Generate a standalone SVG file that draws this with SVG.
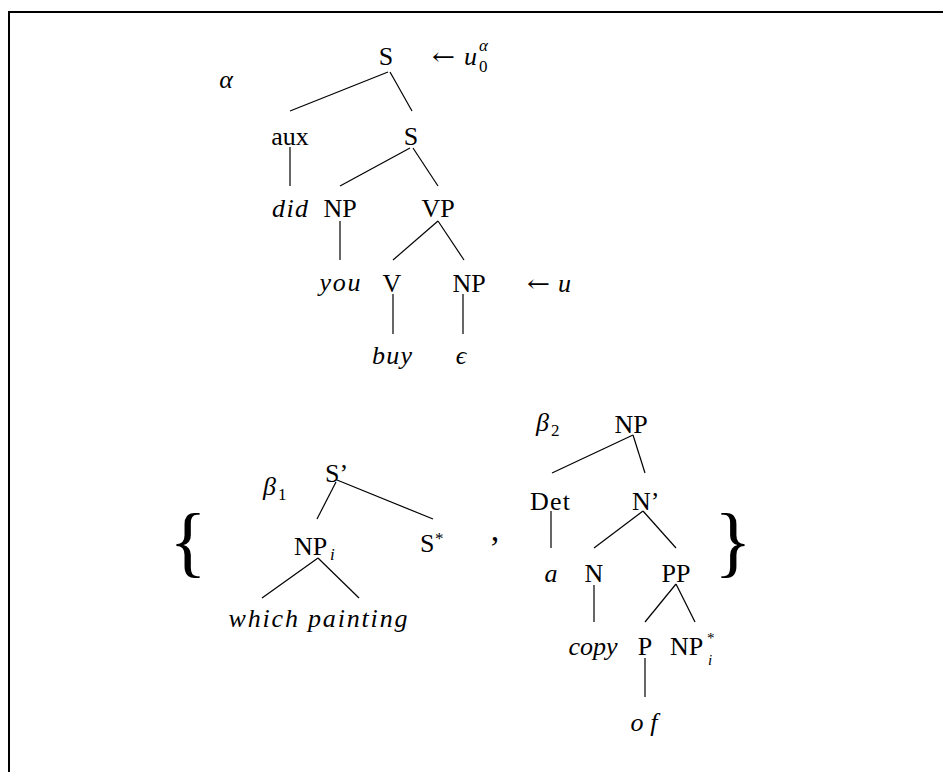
<svg xmlns="http://www.w3.org/2000/svg" width="943" height="772" viewBox="0 0 943 772">
<style>
text{font-family:"Liberation Serif","Times New Roman",serif;font-size:26px;fill:#000}
.m{text-anchor:middle}
.i{font-style:italic}
.s{font-size:17px}
.b{font-size:78px}
.ar{font-family:"DejaVu Serif",serif;font-size:24px}
#edges line{stroke:#000;stroke-width:1.2}
</style>
<rect width="943" height="772" fill="#fff"/>
<path d="M9,773 V12 H944" fill="none" stroke="#000" stroke-width="2"/>
<g id="edges">
<line x1="388" y1="72" x2="290" y2="111"/>
<line x1="390" y1="72" x2="412" y2="111"/>
<line x1="290" y1="147" x2="290" y2="186"/>
<line x1="410" y1="148" x2="340" y2="186"/>
<line x1="413" y1="148" x2="438" y2="186"/>
<line x1="340" y1="221" x2="340" y2="260"/>
<line x1="438" y1="221" x2="393" y2="260"/>
<line x1="438" y1="221" x2="464" y2="260"/>
<line x1="393" y1="294" x2="393" y2="334"/>
<line x1="463" y1="294" x2="463" y2="334"/>
<line x1="336" y1="482" x2="317" y2="519"/>
<line x1="337" y1="480" x2="433" y2="519"/>
<line x1="318" y1="558" x2="262" y2="598"/>
<line x1="318" y1="558" x2="359" y2="598"/>
<line x1="633" y1="435" x2="552" y2="473"/>
<line x1="633" y1="435" x2="645" y2="473"/>
<line x1="551" y1="511" x2="551" y2="548"/>
<line x1="643" y1="511" x2="594" y2="548"/>
<line x1="643" y1="511" x2="676" y2="548"/>
<line x1="594" y1="585" x2="594" y2="622"/>
<line x1="676" y1="584" x2="645" y2="622"/>
<line x1="676" y1="584" x2="695" y2="622"/>
<line x1="645" y1="658" x2="645" y2="697"/>
</g>
<g id="alpha-label"><text class="m i" x="226" y="88">α</text></g>
<g id="a-S"><text class="m" x="386" y="65">S</text></g>
<g id="a-u0"><text class="ar" x="432" y="65" textLength="23" lengthAdjust="spacingAndGlyphs">←</text><text class="i" x="464" y="65">u</text><text class="s i" x="479" y="51">α</text><text class="s" x="479" y="72">0</text></g>
<g id="a-aux"><text class="m" x="290" y="145">aux</text></g>
<g id="a-S2"><text class="m" x="411" y="145">S</text></g>
<g id="a-did"><text class="m i" x="290" y="217" textLength="36" lengthAdjust="spacing">did</text></g>
<g id="a-NP"><text class="m" x="340" y="217">NP</text></g>
<g id="a-VP"><text class="m" x="438" y="217">VP</text></g>
<g id="a-you"><text class="m i" x="340" y="291" textLength="41" lengthAdjust="spacing">you</text></g>
<g id="a-V"><text class="m" x="392" y="292">V</text></g>
<g id="a-NP2"><text class="m" x="469" y="292">NP</text></g>
<g id="a-u"><text class="ar" x="527" y="292" textLength="23" lengthAdjust="spacingAndGlyphs">←</text><text class="i" x="558" y="292">u</text></g>
<g id="a-buy"><text class="m i" x="392" y="364" textLength="40" lengthAdjust="spacing">buy</text></g>
<g id="a-eps"><text class="m i" x="461" y="364">ϵ</text></g>
<g id="beta1-label"><text class="i" x="263" y="495">β</text><text class="s" x="278" y="500">1</text></g>
<g id="b1-Sbar"><text x="325" y="482">S’</text></g>
<g id="b1-NPi"><text x="294" y="555">NP</text><text class="s i" x="330" y="560">i</text></g>
<g id="b1-Sstar"><text x="420" y="552">S</text><text class="s" x="435" y="544">*</text></g>
<g id="b1-words"><text class="m i" x="318" y="627" textLength="179" lengthAdjust="spacing">which painting</text></g>
<g id="lbrace"><text class="m b" x="188" y="568">{</text></g>
<g id="comma"><text class="m" x="495" y="541" style="font-size:34px">,</text></g>
<g id="beta2-label"><text class="i" x="536" y="431">β</text><text class="s" x="551" y="436">2</text></g>
<g id="b2-NP"><text class="m" x="631" y="433">NP</text></g>
<g id="b2-Det"><text class="m" x="550" y="510" textLength="40" lengthAdjust="spacing">Det</text></g>
<g id="b2-Nbar"><text x="632" y="510">N’</text></g>
<g id="b2-a"><text class="m i" x="551" y="582">a</text></g>
<g id="b2-N"><text class="m" x="594" y="582">N</text></g>
<g id="b2-PP"><text class="m" x="676" y="582">PP</text></g>
<g id="b2-copy"><text class="m i" x="593" y="655" textLength="49" lengthAdjust="spacing">copy</text></g>
<g id="b2-P"><text class="m" x="645" y="655">P</text></g>
<g id="b2-NPi"><text x="670" y="655">NP</text><text x="707" y="643" style="font-size:15px">*</text><text class="i" x="708" y="665" style="font-size:15px">i</text></g>
<g id="b2-of"><text class="m i" x="644" y="731" textLength="27" lengthAdjust="spacing">of</text></g>
<g id="rbrace"><text class="m b" x="733" y="568">}</text></g>
</svg>
